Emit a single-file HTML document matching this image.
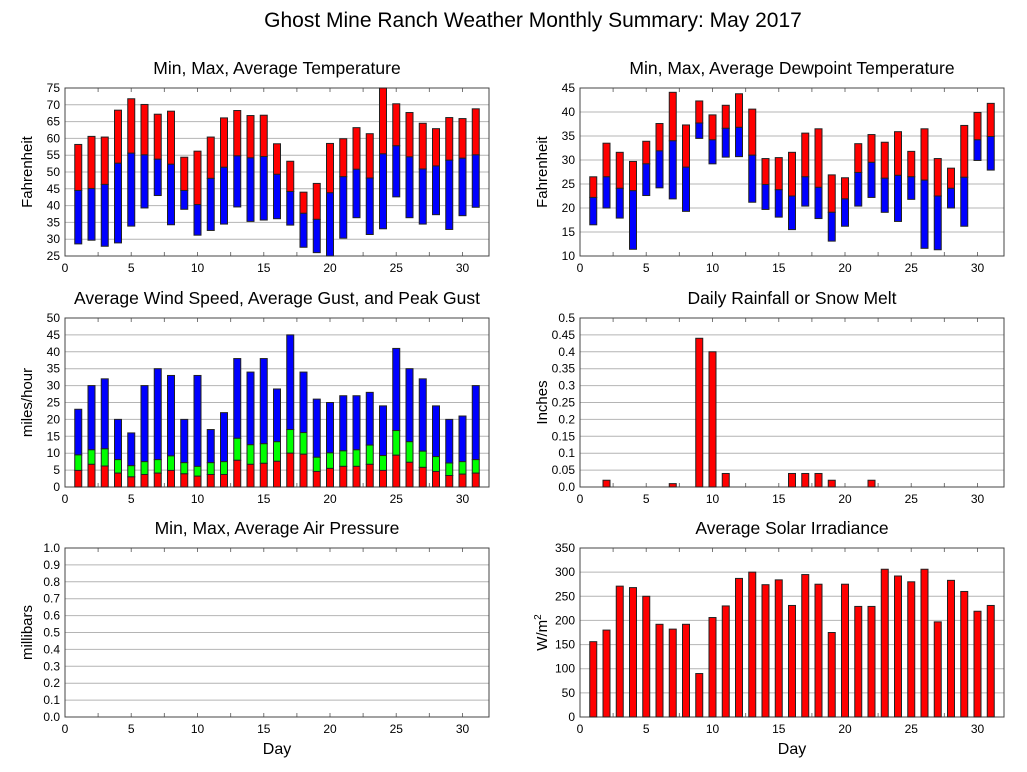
<!DOCTYPE html>
<html><head><meta charset="utf-8">
<style>
html,body{margin:0;padding:0;background:#fff;}
svg{display:block;font-family:"Liberation Sans",sans-serif;}
</style></head>
<body>
<svg id="chart" width="1027" height="772" xmlns="http://www.w3.org/2000/svg">
<text x="533" y="27" text-anchor="middle" font-size="21">Ghost Mine Ranch Weather Monthly Summary: May 2017</text>
</svg>
<script>
const days = Array.from({length:31},(_,i)=>i+1);
const tempMax=[58.2,60.6,60.4,68.4,71.8,70.1,67.2,68.1,54.4,56.2,60.4,66.1,68.3,66.8,66.9,58.4,53.2,44.0,46.6,58.5,59.9,63.2,61.4,75,70.3,67.7,64.5,62.9,66.2,65.9,68.8];
const tempAvg=[44.5,45.1,46.3,52.6,55.6,55.1,53.8,52.3,44.5,40.3,48.1,51.4,54.8,54.2,54.6,49.3,44.2,37.7,35.9,43.8,48.6,50.8,48.2,55.4,57.8,54.5,50.9,51.8,53.5,54.1,55.1];
const tempMin=[28.6,29.7,27.9,28.9,33.9,39.3,43.0,34.3,38.9,31.2,32.6,34.5,39.6,35.3,35.7,36.1,34.2,27.6,26.0,25,30.3,36.4,31.4,33.1,42.6,36.4,34.5,37.3,32.9,37.0,39.5];
const dewMax=[26.5,33.5,31.6,29.7,33.9,37.6,44.1,37.3,42.3,39.4,41.4,43.8,40.6,30.3,30.5,31.6,35.6,36.5,26.9,26.3,33.4,35.3,33.7,35.9,31.8,36.5,30.3,28.3,37.2,39.9,41.8];
const dewAvg=[22.2,26.5,24.1,23.6,29.2,31.9,34.0,28.5,37.7,34.2,36.6,36.8,31.0,24.9,23.8,22.5,26.5,24.3,19.1,21.9,27.4,29.5,26.2,26.8,26.5,25.8,22.5,24.1,26.4,34.2,34.9];
const dewMin=[16.5,20.0,17.9,11.4,22.6,24.2,21.9,19.3,34.5,29.2,30.6,30.7,21.2,19.7,18.1,15.5,20.4,17.8,13.1,16.2,20.4,22.2,19.1,17.2,21.8,11.6,11.3,20.0,16.2,29.9,27.9];
const windPeak=[23,30,32,20,16,30,35,33,20,33,17,22,38,34,38,29,45,34,26,25,27,27,28,24,41,35,32,24,20,21,30];
const windGust=[9.5,11.0,11.3,8.1,6.3,7.5,8.1,9.2,7.2,6.1,7.2,7.5,14.4,12.5,12.8,13.4,17.0,16.1,8.8,10.1,10.7,11.0,12.4,9.3,16.7,13.4,10.6,9.0,7.1,7.5,8.1];
const windAvg=[4.9,6.7,6.2,4.1,3.0,3.7,4.1,4.9,3.9,3.2,3.7,3.7,7.9,6.7,7.0,7.6,10.0,9.7,4.6,5.5,6.1,6.1,6.7,4.9,9.4,7.3,5.8,4.6,3.4,3.8,4.1];
const rain=[0,0.02,0,0,0,0,0.01,0,0.44,0.40,0.04,0,0,0,0,0.04,0.04,0.04,0.02,0,0,0.02,0,0,0,0,0,0,0,0,0];
const solar=[156,180,271,268,250,192,182,192,90,206,230,287,300,274,284,231,295,275,175,275,229,229,306,292,280,306,197,283,260,219,231];

const NS="http://www.w3.org/2000/svg";
const svg=document.getElementById('chart');
function el(tag,attrs,parent){const e=document.createElementNS(NS,tag);for(const k in attrs)e.setAttribute(k,attrs[k]);(parent||svg).appendChild(e);return e;}

function panel(name,x0,y0,w,h,ymin,ymax,ystep,dec,title,ylabel,xlabel){
  const g=el('g',{});
  
  
  const xs=d=>x0+d/32*w;
  const ys=v=>y0+h-(v-ymin)/(ymax-ymin)*h;
  const n=Math.round((ymax-ymin)/ystep);
  for(let i=0;i<=n;i++){
    const v=ymin+i*ystep,y=ys(v);
    const gl=el('line',{x1:x0,x2:x0+w,y1:y,y2:y,stroke:'#b4b4b4','stroke-width':1},g);
    
    
    const t=el('text',{x:x0-5,y:y+4,'text-anchor':'end','font-size':12},g);
    
    
    t.textContent=dec<0?(i===0?'0.0':String(parseFloat(v.toFixed(2)))):v.toFixed(dec);
  }
  for(let d=0;d<=32;d+=2.5){
    const x=xs(d);
    el('line',{x1:x,x2:x,y1:y0+h,y2:y0+h-4,stroke:'#777'},g);
    el('line',{x1:x,x2:x,y1:y0,y2:y0+4,stroke:'#777'},g);
  }
  for(let d=0;d<=30;d+=5){
    const t=el('text',{x:xs(d),y:y0+h+16,'text-anchor':'middle','font-size':12},g);
    
    
    t.textContent=d;
  }
  const fr=el('rect',{x:x0,y:y0,width:w,height:h,fill:'none',stroke:'#444','stroke-width':1},g);
  
  
  const tt=el('text',{x:x0+w/2,y:y0-14,'text-anchor':'middle','font-size':17.5},g);
  
  
  tt.textContent=title;
  const yl=el('text',{x:0,y:0,'text-anchor':'middle','font-size':15,transform:`translate(${x0-33},${y0+h/2}) rotate(-90)`},g);
  
  
  if(ylabel==='W/m2'){yl.innerHTML='W/m<tspan dy="-6" font-size="10">2</tspan>';}else yl.textContent=ylabel;
  if(xlabel){
    const xl=el('text',{x:x0+w/2,y:y0+h+37,'text-anchor':'middle','font-size':16},g);
    
    
    xl.textContent='Day';
  }
  return {g,xs,ys};
}
function bar(p,d,v1,v2,color,name){
  const a=p.ys(Math.max(v1,v2)),b=p.ys(Math.min(v1,v2));
  const r=el('rect',{x:p.xs(d)-3.5,y:a,width:7,height:Math.max(b-a,0),fill:color,stroke:'#222','stroke-width':1},p.g);
  
  
}

const p1=panel('temperature',65,88,424,168,25,75,5,0,'Min, Max, Average Temperature','Fahrenheit',false);
days.forEach((d,i)=>{bar(p1,d,tempMax[i],tempAvg[i],'#ff0000','temp-max-bar');bar(p1,d,tempAvg[i],tempMin[i],'#0000ff','temp-min-bar');});
const p2=panel('dewpoint',580,88,424,168,10,45,5,0,'Min, Max, Average Dewpoint Temperature','Fahrenheit',false);
days.forEach((d,i)=>{bar(p2,d,dewMax[i],dewAvg[i],'#ff0000','dew-max-bar');bar(p2,d,dewAvg[i],dewMin[i],'#0000ff','dew-min-bar');});
const p3=panel('wind',65,318,424,169,0,50,5,0,'Average Wind Speed, Average Gust, and Peak Gust','miles/hour',false);
days.forEach((d,i)=>{bar(p3,d,windPeak[i],windGust[i],'#0000ff','wind-peak-bar');bar(p3,d,windGust[i],windAvg[i],'#00ff00','wind-gust-bar');bar(p3,d,windAvg[i],0,'#ff0000','wind-avg-bar');});
const p4=panel('rainfall',580,318,424,169,0,0.5,0.05,-1,'Daily Rainfall or Snow Melt','Inches',false);
days.forEach((d,i)=>{if(rain[i]>0)bar(p4,d,rain[i],0,'#ff0000','rain-bar');});
const p5=panel('pressure',65,548,424,169,0,1,0.1,1,'Min, Max, Average Air Pressure','millibars',true);
const p6=panel('solar',580,548,424,169,0,350,50,0,'Average Solar Irradiance','W/m2',true);
days.forEach((d,i)=>{bar(p6,d,solar[i],0,'#ff0000','solar-bar');});
</script>
</body></html>
